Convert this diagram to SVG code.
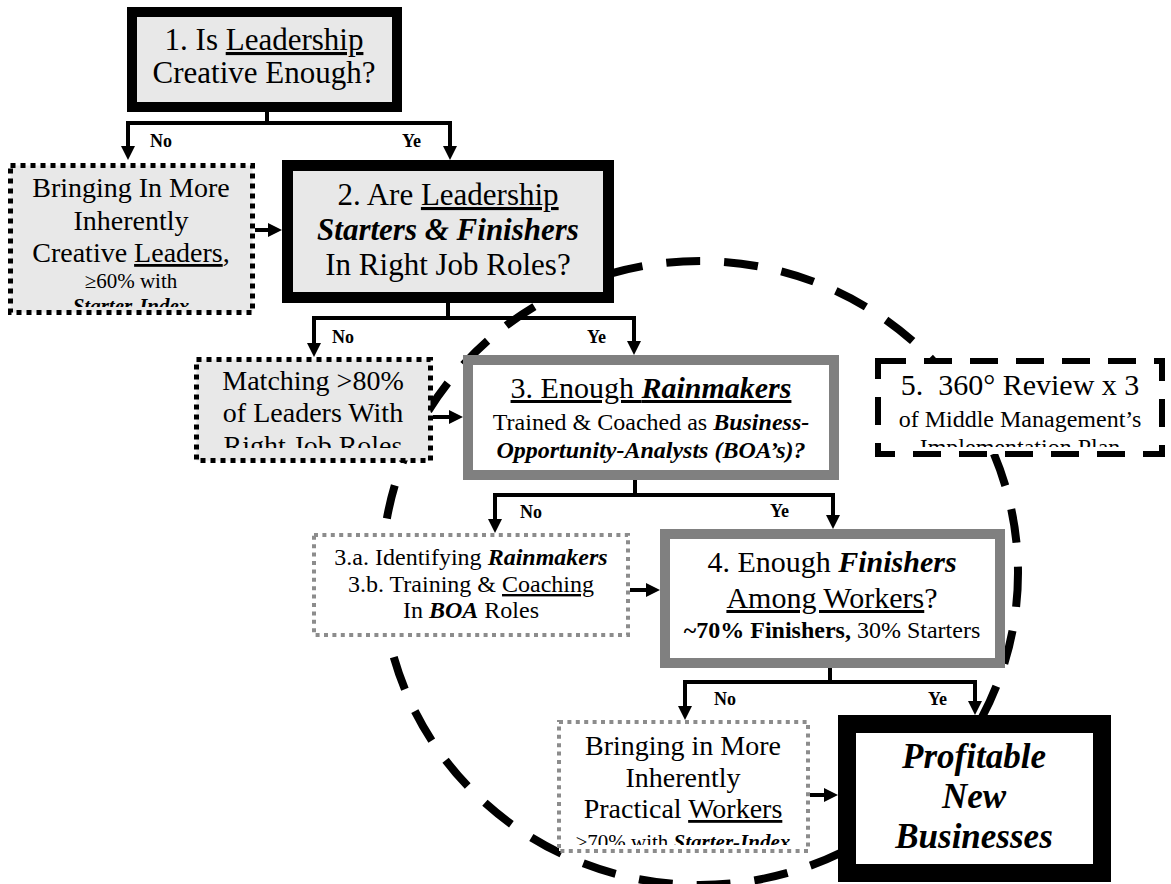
<svg xmlns="http://www.w3.org/2000/svg" width="1171" height="884" viewBox="0 0 1171 884" font-family="'Liberation Serif', Tinos, 'Times New Roman', 'DejaVu Serif', 'Noto Serif', serif">
<style>
text{font-family:"Liberation Serif",Tinos,"Times New Roman","DejaVu Serif","Noto Serif",serif;fill:#000;text-anchor:middle}
.t31{font-size:31px}.t30{font-size:30px}.t28{font-size:28px}.t24{font-size:24px}.t21{font-size:21px}
.bi{font-weight:bold;font-style:italic}.b{font-weight:bold}.u{text-decoration:underline}
.lbl{font-size:18px;font-weight:bold;text-anchor:start}
.gfill{fill:#e8e8e8}
.grey{stroke:#808080;fill:#fff}
.dotk{stroke:#000;stroke-width:5;stroke-dasharray:5 5}
.dotg{fill:#fff;stroke:#8c8c8c;stroke-width:4;stroke-dasharray:4 4.4}
.con{stroke:#000;stroke-width:4;fill:none}
</style>
<defs>
<marker id="ah" markerUnits="userSpaceOnUse" markerWidth="14" markerHeight="14" viewBox="0 0 14 14" refX="2" refY="7" orient="auto"><path d="M0,0 L14,7 L0,14 z" fill="#000"/></marker>
<clipPath id="cB1"><rect x="13" y="168" width="237" height="139"/></clipPath>
<clipPath id="cM"><rect x="199" y="362" width="229" height="86"/></clipPath>
<clipPath id="c5"><rect x="881" y="364" width="278" height="83"/></clipPath>
<clipPath id="cB2"><rect x="561" y="724" width="245" height="121"/></clipPath>
</defs>

<g id="cycle"><ellipse cx="700" cy="573" rx="318" ry="312" fill="none" stroke="#000" stroke-width="8" stroke-dasharray="34 24"/></g>

<g id="connectors">
<path class="con" d="M267,112 V123 M126,123 H452"/>
<path class="con" d="M128,123 V148" marker-end="url(#ah)"/>
<path class="con" d="M450,123 V148" marker-end="url(#ah)"/>
<path class="con" d="M255,230 H270" marker-end="url(#ah)"/>
<path class="con" d="M448,303 V318 M312,318 H636"/>
<path class="con" d="M314,318 V345" marker-end="url(#ah)"/>
<path class="con" d="M634,318 V343" marker-end="url(#ah)"/>
<path class="con" d="M433,417 H451" marker-end="url(#ah)"/>
<path class="con" d="M635,480 V495 M493,495 H835"/>
<path class="con" d="M495,495 V521" marker-end="url(#ah)"/>
<path class="con" d="M833,495 V517" marker-end="url(#ah)"/>
<path class="con" d="M630,590 H648" marker-end="url(#ah)"/>
<path class="con" d="M830,668 V682 M683,682 H977"/>
<path class="con" d="M685,682 V708" marker-end="url(#ah)"/>
<path class="con" d="M975,682 V703" marker-end="url(#ah)"/>
<path class="con" d="M810,795 H826" marker-end="url(#ah)"/>
<text class="lbl" x="150" y="147">No</text>
<text class="lbl" x="402" y="147">Ye</text>
<text class="lbl" x="332" y="343">No</text>
<text class="lbl" x="587" y="343">Ye</text>
<text class="lbl" x="520" y="518">No</text>
<text class="lbl" x="770" y="517">Ye</text>
<text class="lbl" x="714" y="705">No</text>
<text class="lbl" x="928" y="705">Ye</text>
</g>

<g id="node1">
<rect x="132" y="12" width="265" height="95" class="gfill" stroke="#000" stroke-width="10"/>
<text class="t31" x="264" y="50">1. Is <tspan class="u">Leadership</tspan></text>
<text class="t31" x="264" y="83">Creative Enough?</text>
</g>

<g id="bringLeaders">
<rect x="10.5" y="165.5" width="242" height="147" class="gfill dotk"/>
<g clip-path="url(#cB1)">
<text class="t28" x="131" y="197">Bringing In More</text>
<text class="t28" x="131" y="230">Inherently</text>
<text class="t28" x="131" y="262">Creative <tspan class="u">Leaders</tspan>,</text>
<text class="t21" x="131" y="288">≥60% with</text>
<text class="t21 bi" x="131" y="313">Starter-Index</text>
</g>
</g>

<g id="node2">
<rect x="287.5" y="165.5" width="321" height="132" class="gfill" stroke="#000" stroke-width="11"/>
<text class="t31" x="448" y="205">2. Are <tspan class="u">Leadership</tspan></text>
<text class="t31 bi" x="448" y="240">Starters &amp; Finishers</text>
<text class="t31" x="448" y="275">In Right Job Roles?</text>
</g>

<g id="matching">
<rect x="196.5" y="359.5" width="234" height="101" class="gfill dotk"/>
<g clip-path="url(#cM)">
<text class="t28" x="313" y="390">Matching &gt;80%</text>
<text class="t28" x="313" y="422">of Leaders With</text>
<text class="t28" x="313" y="455">Right Job Roles</text>
</g>
</g>

<g id="node3">
<rect x="468" y="360" width="366" height="115" class="grey" stroke-width="10"/>
<text class="t30" x="651" y="398"><tspan class="u">3. Enough <tspan class="bi">Rainmakers</tspan></tspan></text>
<text class="t24" x="651" y="430">Trained &amp; Coached as <tspan class="bi">Business-</tspan></text>
<text class="t24 bi" x="651" y="458">Opportunity-Analysts (BOA’s)?</text>
</g>

<g id="node5">
<rect x="878" y="361" width="284" height="93" fill="#fff" stroke="#000" stroke-width="6" stroke-dasharray="28 18"/>
<g clip-path="url(#c5)">
<text class="t30" x="1020" y="395" style="white-space:pre">5.  360° Review x 3</text>
<text class="t24" x="1020" y="427">of Middle Management’s</text>
<text class="t24" x="1020" y="455">Implementation Plan</text>
</g>
</g>

<g id="node3ab">
<rect x="314" y="535" width="314" height="100" class="dotg"/>
<text class="t24" x="471" y="565">3.a. Identifying <tspan class="bi">Rainmakers</tspan></text>
<text class="t24" x="471" y="592">3.b. Training &amp; <tspan class="u">Coaching</tspan></text>
<text class="t24" x="471" y="618">In <tspan class="bi">BOA</tspan> Roles</text>
</g>

<g id="node4">
<rect x="665" y="534" width="335" height="129" class="grey" stroke-width="10"/>
<text class="t30" x="832" y="572">4. Enough <tspan class="bi">Finishers</tspan></text>
<text class="t30" x="832" y="608"><tspan class="u">Among Workers</tspan>?</text>
<text class="t24" x="832" y="638"><tspan class="b">~70% Finishers,</tspan> 30% Starters</text>
</g>

<g id="bringWorkers">
<rect x="559" y="722" width="249" height="129" class="dotg"/>
<g clip-path="url(#cB2)">
<text class="t28" x="683" y="755">Bringing in More</text>
<text class="t28" x="683" y="787">Inherently</text>
<text class="t28" x="683" y="818">Practical <tspan class="u">Workers</tspan></text>
<text class="t21" x="683" y="849">≥70% with <tspan class="bi">Starter-Index</tspan></text>
</g>
</g>

<g id="profitable">
<rect x="847" y="724" width="255" height="149" fill="#fff" stroke="#000" stroke-width="18"/>
<text class="bi" style="font-size:35px" x="974" y="768">Profitable</text>
<text class="bi" style="font-size:35px" x="974" y="808">New</text>
<text class="bi" style="font-size:35px" x="974" y="848">Businesses</text>
</g>
</svg>
